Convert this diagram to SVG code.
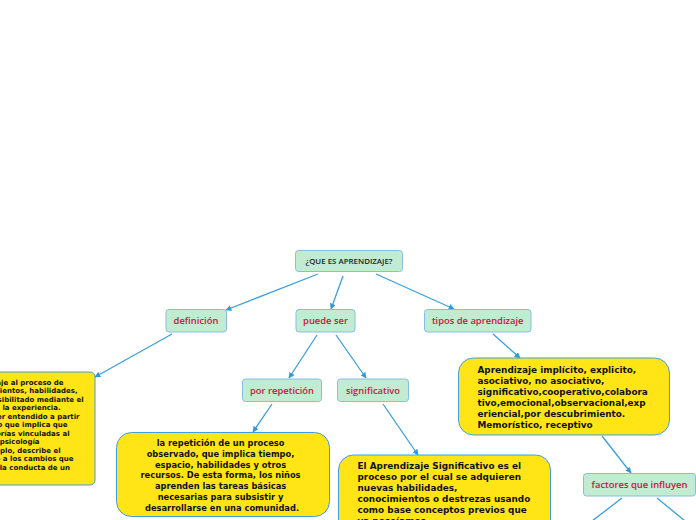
<svg xmlns="http://www.w3.org/2000/svg" width="696" height="520" viewBox="0 0 696 520">
<defs>
<marker id="arr" viewBox="0 0 10 10" refX="9" refY="5" markerWidth="6" markerHeight="6" orient="auto" markerUnits="userSpaceOnUse">
<path d="M0,0 L10,5 L0,10 z" fill="#2d9be0"/>
</marker>
</defs>
<style>
.g{fill:#c2ecd1;stroke:#86bde6;stroke-width:1}
.y{fill:#ffe516;stroke:#3f9fe0;stroke-width:1}
.lbl{font-family:"Open Sans","Noto Sans",sans-serif;font-weight:600;font-size:9.4px;fill:#d0103e;text-anchor:middle}
.root{font-family:"Open Sans","Noto Sans",sans-serif;font-weight:600;font-size:7.9px;fill:#222;text-anchor:middle}
.t{font-family:"DejaVu Sans",Verdana,sans-serif;font-weight:bold;font-size:8.3px;fill:#111}
.tb{font-family:"DejaVu Sans",Verdana,sans-serif;font-weight:bold;font-size:8.9px;fill:#111}
.td{font-family:"DejaVu Sans",Verdana,sans-serif;font-weight:bold;font-size:7px;fill:#111;text-anchor:end}
.c{fill:none;stroke:#3aa0e0;stroke-width:1.3}
</style>
<rect width="696" height="520" fill="#ffffff"/>
<g id="connectors">
<line class="c" x1="318" y1="274" x2="226" y2="310" marker-end="url(#arr)"/>
<line class="c" x1="343" y1="276" x2="331" y2="309" marker-end="url(#arr)"/>
<line class="c" x1="376" y1="274" x2="454" y2="309" marker-end="url(#arr)"/>
<line class="c" x1="172" y1="334" x2="95" y2="377" marker-end="url(#arr)"/>
<line class="c" x1="317" y1="335" x2="289" y2="378" marker-end="url(#arr)"/>
<line class="c" x1="336" y1="335" x2="366" y2="378" marker-end="url(#arr)"/>
<line class="c" x1="272" y1="404" x2="253" y2="432" marker-end="url(#arr)"/>
<line class="c" x1="383" y1="404" x2="418" y2="455" marker-end="url(#arr)"/>
<line class="c" x1="493" y1="334" x2="520" y2="358" marker-end="url(#arr)"/>
<line class="c" x1="602" y1="436" x2="631" y2="473" marker-end="url(#arr)"/>
<line class="c" x1="622" y1="498" x2="592" y2="521"/>
<line class="c" x1="657" y1="498" x2="685" y2="521"/>
</g>
<g id="root">
<rect class="g" x="295.5" y="250.5" width="107" height="21" rx="3"/>
<text class="root" x="349" y="263.8">¿QUE ES APRENDIZAJE?</text>
</g>
<g id="definicion">
<rect class="g" x="166" y="309.5" width="60.5" height="22.5" rx="3"/>
<text class="lbl" x="196" y="324">definición</text>
</g>
<g id="puede-ser">
<rect class="g" x="296" y="309.5" width="59" height="22.5" rx="3"/>
<text class="lbl" x="325.5" y="324">puede ser</text>
</g>
<g id="tipos">
<rect class="g" x="424.5" y="309.5" width="106.5" height="22.5" rx="3"/>
<text class="lbl" x="477.7" y="324">tipos de aprendizaje</text>
</g>
<g id="por-repeticion">
<rect class="g" x="242.5" y="379" width="79" height="22.5" rx="3"/>
<text class="lbl" x="282" y="393.5">por repetición</text>
</g>
<g id="significativo">
<rect class="g" x="337.5" y="379" width="71" height="22.5" rx="3"/>
<text class="lbl" x="373" y="393.5">significativo</text>
</g>
<g id="factores">
<rect class="g" x="583.5" y="473.5" width="112" height="22.5" rx="3"/>
<text class="lbl" x="639.5" y="488">factores que influyen</text>
</g>
<g id="def-box">
<rect class="y" x="-120" y="372" width="215" height="113" rx="5"/>
<text class="td">
<tspan x="66" y="384.5">Se denomina aprendizaje al proceso de</tspan>
<tspan x="80" y="393">adquisición de conocimientos, habilidades,</tspan>
<tspan x="86" y="401.5">valores y actitudes, posibilitado mediante el</tspan>
<tspan x="63" y="410">estudio, la enseñanza o la experiencia.</tspan>
<tspan x="82" y="418.5">Dicho proceso puede ser entendido a partir</tspan>
<tspan x="70" y="427">de diversas posturas, lo que implica que</tspan>
<tspan x="72" y="435.5">existen diferentes teorías vinculadas al</tspan>
<tspan x="42" y="444">hecho de aprender. La psicología</tspan>
<tspan x="63" y="452.5">conductista, por ejemplo, describe el</tspan>
<tspan x="76" y="461">aprendizaje de acuerdo a los cambios que</tspan>
<tspan x="70" y="469.5">pueden observarse en la conducta de un</tspan>
</text>
</g>
<g id="rep-box">
<rect class="y" x="116.5" y="432.5" width="213" height="84" rx="15"/>
<text class="t" text-anchor="middle">
<tspan x="222" y="446.3">la repetición de un proceso</tspan>
<tspan x="222" y="457">observado, que implica tiempo,</tspan>
<tspan x="222" y="467.7">espacio, habilidades y otros</tspan>
<tspan x="222" y="478.4">recursos. De esta forma, los niños</tspan>
<tspan x="222" y="489.1">aprenden las tareas básicas</tspan>
<tspan x="222" y="499.8">necesarias para subsistir y</tspan>
<tspan x="222" y="510.5">desarrollarse en una comunidad.</tspan>
</text>
</g>
<g id="sig-box">
<rect class="y" x="338.5" y="455" width="212" height="80" rx="15"/>
<text class="tb">
<tspan x="357.5" y="469.3">El Aprendizaje Significativo es el</tspan>
<tspan x="357.5" y="480.3">proceso por el cual se adquieren</tspan>
<tspan x="357.5" y="491.3">nuevas habilidades,</tspan>
<tspan x="357.5" y="502.3">conocimientos o destrezas usando</tspan>
<tspan x="357.5" y="513.3">como base conceptos previos que</tspan>
<tspan x="357.5" y="524.3">ya poseíamos.</tspan>
</text>
</g>
<g id="tipos-box">
<rect class="y" x="458.5" y="358" width="211" height="77" rx="15"/>
<text class="tb">
<tspan x="477.5" y="373.3">Aprendizaje implícito, explicito,</tspan>
<tspan x="477.5" y="384.3">asociativo, no asociativo,</tspan>
<tspan x="477.5" y="395.3">significativo,cooperativo,colabora</tspan>
<tspan x="477.5" y="406.3">tivo,emocional,observacional,exp</tspan>
<tspan x="477.5" y="417.3">eriencial,por descubrimiento.</tspan>
<tspan x="477.5" y="428.3">Memorístico, receptivo</tspan>
</text>
</g>
</svg>
